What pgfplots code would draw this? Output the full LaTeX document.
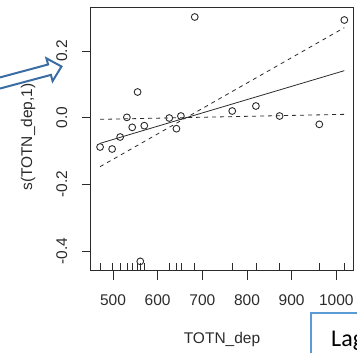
\documentclass[border=0pt]{standalone}
\usepackage{pgfplots}
\usepackage{pgfplotstable}
\pgfplotsset{compat=1.18}
\usepackage{fontspec}
\setmainfont{Liberation Sans}
\newfontfamily\calibri{Carlito}
\definecolor{arrowblue}{HTML}{3A6DA3}
\definecolor{boxblue}{HTML}{5B9BD5}
\definecolor{ink}{HTML}{2B2B2B}
\pgfplotstableread{
x y r
471 -0.088 -0.448
498 -0.094 -0.448
516 -0.058 -0.448
531 0.001 -0.448
543 -0.029 -0.448
555 0.077 -0.448
561 -0.431 -0.448
570 -0.024 -0.448
626 -0.001 -0.448
642 -0.033 -0.448
652 0.005 -0.448
683 0.302 -0.448
767 0.020 -0.448
820 0.035 -0.448
873 0.005 -0.448
962 -0.020 -0.448
1018 0.293 -0.448
}\pts
\begin{document}
\begin{tikzpicture}[x=1pt,y=1pt]
\useasboundingbox (0,0) rectangle (357,353);
\begin{axis}[
  at={(90.7pt,82.3pt)}, anchor=south west,
  width=263pt, height=263.7pt, scale only axis,
  xmin=450, xmax=1039, ymin=-0.459, ymax=0.332,
  axis line style={ink, line width=0.8pt},
  xtick={500,600,700,800,900,1000},
  ytick={-0.4,-0.2,0,0.2},
  yticklabels={-0.4,-0.2,0.0,0.2},
  tick align=outside, major tick length=9pt,
  tick style={ink, line width=0.8pt},
  xtick pos=bottom, ytick pos=left,
  /pgf/number format/assume math mode=true,
  /pgf/number format/1000 sep={},
  tick label style={font=\fontsize{15.5}{16}\selectfont, text=ink},
  xticklabel style={anchor=center, yshift=-20pt},
  yticklabel style={rotate=90, anchor=center, yshift=20pt},
  clip=false,
]
\addplot[ink, line width=0.8pt] coordinates {(471,-0.077) (1018,0.141)};
\addplot[ink, line width=0.8pt, dash pattern=on 4pt off 4pt] coordinates {(471,-0.147) (1018,0.270)};
\addplot[ink, line width=0.8pt, dash pattern=on 4pt off 4pt] coordinates {(471,-0.005) (1018,0.010)};
\addplot[only marks, mark=o, mark size=3.4pt, mark options={ink, line width=0.9pt}] table[x=x, y=y] {\pts};
\addplot[only marks, mark=|, mark size=3.6pt, mark options={ink, line width=0.7pt}] table[x=x, y=r] {\pts};
\end{axis}
\node[font=\fontsize{15.5}{16}\selectfont, text=ink, rotate=90] at (28,216) {s(TOTN\_dep,1)};
\node[font=\fontsize{15.5}{16}\selectfont, text=ink] at (222,14) {TOTN\_dep};
% overlay arrow
\draw[arrowblue, line width=2pt, fill=white, line join=miter]
  (-10,272.9) -- (48.1,288.5) -- (46.4,294.7) -- (61.5,286.5) -- (52.6,271.9) -- (50.9,278.1) -- (-10,261.8) -- cycle;
% overlay box
\draw[boxblue, line width=2pt, fill=white] (311,40) rectangle (380,-20);
\node[anchor=base west, inner sep=0pt, font=\calibri\fontsize{24}{26}\selectfont] at (331,6) {Lag};
\end{tikzpicture}
\end{document}
